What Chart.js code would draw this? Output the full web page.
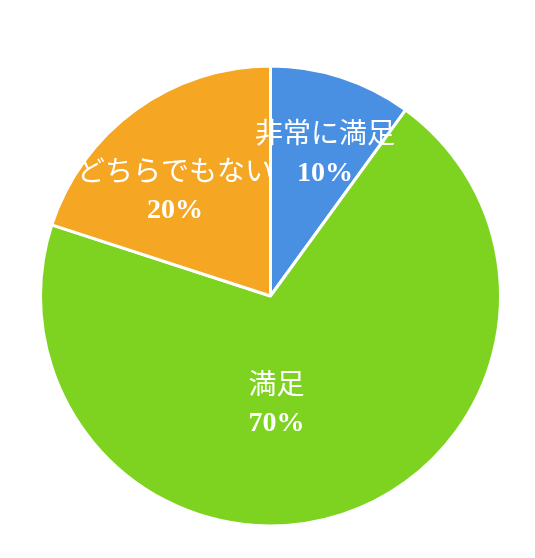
<!DOCTYPE html>
<html>
<head>
<meta charset="utf-8">
<script src="https://cdn.jsdelivr.net/npm/chart.js@4/dist/chart.umd.min.js"></script>
<style>
  html, body { margin: 0; padding: 0; background: #fff; }
  #wrap { width: 535px; height: 558px; position: relative; }
</style>
</head>
<body>
<div id="wrap"><canvas id="chart"></canvas></div>
<script>
const categories = ['非常に満足', '満足', 'どちらでもない']
const shares = [10, 70, 20]
const sliceColors = ['#4A90E2', '#7ED321', '#F5A623']

// where each label sits, as a fraction of the radius from the pie centre
const labelSpots = [
  [0.237, -0.624],
  [0.026, 0.465],
  [-0.415, -0.461],
]

const sliceLabels = {
  id: 'sliceLabels',
  afterDatasetsDraw(chart) {
    const { ctx } = chart
    const arcs = chart.getDatasetMeta(0).data
    ctx.save()
    ctx.fillStyle = '#fff'
    ctx.textAlign = 'center'
    ctx.textBaseline = 'middle'
    arcs.forEach((arc, i) => {
      const { x, y } = arc.getProps(['x', 'y'], true)
      const r = 230
      const cx = x + labelSpots[i][0] * r
      const cy = y + labelSpots[i][1] * r
      ctx.font = '28px "Noto Sans CJK JP", sans-serif'
      ctx.fillText(categories[i], cx, cy - 20)
      ctx.font = 'bold 28px "Liberation Serif", serif'
      ctx.fillText(shares[i] + '%', cx, cy + 21)
    })
    ctx.restore()
  },
}

new Chart(document.getElementById('chart'), {
  type: 'pie',
  data: {
    labels: categories,
    datasets: [
      {
        data: shares,
        backgroundColor: sliceColors,
        borderColor: '#fff',
        borderWidth: 3,
        radius: 230,
      },
    ],
  },
  options: {
    responsive: true,
    maintainAspectRatio: false,
    animation: false,
    layout: { padding: { top: 34, bottom: 0, left: 6, right: 0 } },
    plugins: {
      legend: { display: false },
      tooltip: { enabled: false },
    },
  },
  plugins: [sliceLabels],
})
</script>
</body>
</html>
